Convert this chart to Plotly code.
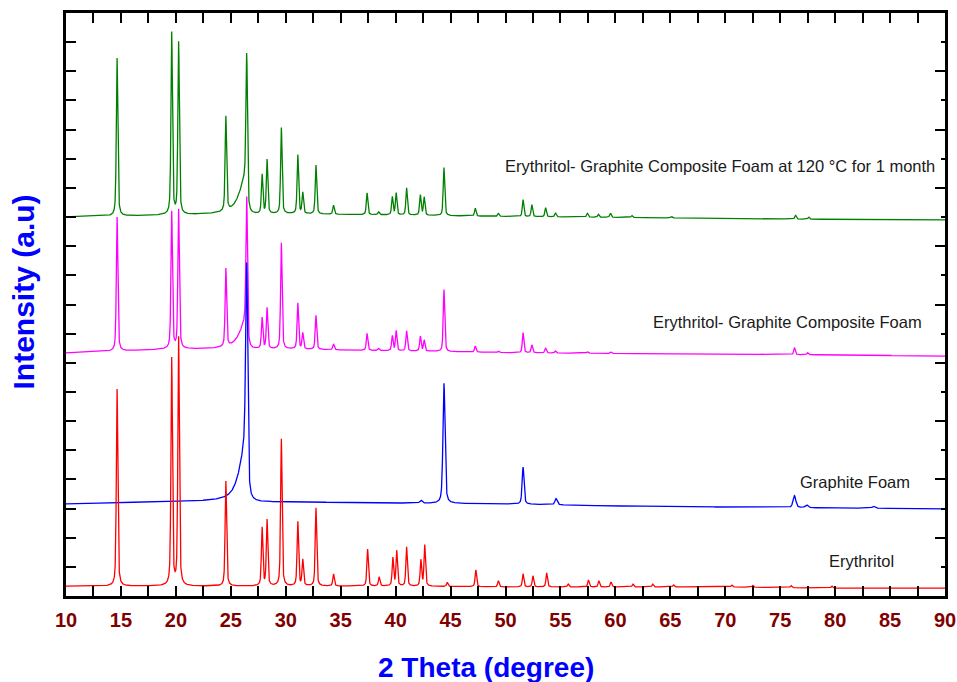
import numpy as np
import plotly.graph_objects as go

# ---------------------------------------------------------------
# XRD patterns: Erythritol, Graphite Foam, Erythritol-Graphite
# composite foam and the same composite after 1 month at 120 °C.
# Intensities are in stacked arbitrary units (offset baselines).
# ---------------------------------------------------------------

# Baseline level of each pattern, read at these 2θ nodes
base_nodes = [10, 20, 30, 40, 50, 60, 70, 80, 90]
ery_base = [0.34, 0.34, 0.34, 0.34, 0.31, 0.31, 0.31, 0.27, 0.27]
gf_base = [3.16, 3.24, 3.23, 3.19, 3.16, 3.09, 3.05, 3.02, 2.99]
comp_base = [8.34, 8.47, 8.47, 8.41, 8.35, 8.32, 8.30, 8.27, 8.23]
aged_base = [13.00, 13.07, 13.11, 13.07, 13.02, 12.99, 12.95, 12.92, 12.90]

# Erythritol reflections (2θ, height above baseline)
ery_pos = [14.65, 19.62, 20.25, 24.55, 27.85, 28.3, 29.6, 31.1, 31.55, 32.75,
           34.35, 37.45, 38.5, 39.75, 40.1, 41.0, 42.3, 42.65, 44.7, 47.3,
           49.35, 51.6, 52.5, 53.75, 55.7, 57.55, 58.5, 59.6, 61.6, 63.4,
           65.3, 70.6, 72.5, 76.0, 79.7]
ery_int = [6.76, 7.79, 8.51, 3.60, 1.99, 2.26, 5.04, 2.20, 0.89, 2.68,
           0.41, 1.27, 0.31, 0.96, 1.20, 1.34, 0.89, 1.41, 0.14, 0.58,
           0.21, 0.45, 0.38, 0.48, 0.10, 0.24, 0.21, 0.17, 0.10, 0.10,
           0.07, 0.07, 0.07, 0.07, 0.07]

# Graphite foam reflections
gf_pos = [26.45, 42.3, 44.4, 51.6, 54.6, 76.3, 77.4, 83.5]
gf_int = [7.30, 0.10, 4.12, 1.27, 0.21, 0.41, 0.10, 0.07]
gf_fwhm = [0.22, 0.25, 0.22, 0.20, 0.25, 0.30, 0.30, 0.30]

# Composite foam reflections
comp_pos = [14.65, 19.62, 20.25, 24.55, 26.45, 27.85, 28.3, 29.6, 31.1, 31.55,
            32.75, 34.35, 37.4, 38.45, 39.7, 40.05, 41.0, 42.25, 42.6, 44.4,
            47.25, 49.35, 51.6, 52.4, 53.65, 54.55, 57.45, 59.6, 76.3, 77.5]
comp_int = [4.60, 4.70, 4.77, 2.68, 4.80, 1.06, 1.40, 3.64, 1.58, 0.55,
            1.17, 0.20, 0.58, 0.07, 0.51, 0.69, 0.69, 0.51, 0.38, 2.13,
            0.21, 0.05, 0.69, 0.27, 0.17, 0.07, 0.05, 0.05, 0.24, 0.07]

# Composite foam after 1 month at 120 °C
aged_pos = [14.65, 19.62, 20.25, 24.55, 26.45, 27.85, 28.3, 29.6, 31.1, 31.55,
            32.75, 34.35, 37.4, 38.45, 39.7, 40.05, 41.0, 42.25, 42.6, 44.4,
            47.25, 49.35, 51.6, 52.4, 53.65, 54.55, 57.45, 58.45, 59.55, 61.5,
            65.1, 76.4, 77.6]
aged_int = [5.42, 6.24, 5.90, 3.25, 4.94, 1.34, 1.85, 2.95, 2.02, 0.72,
            1.68, 0.31, 0.75, 0.10, 0.62, 0.75, 0.93, 0.69, 0.62, 1.65,
            0.27, 0.10, 0.58, 0.41, 0.31, 0.14, 0.14, 0.10, 0.14, 0.07,
            0.05, 0.14, 0.07]

# Low-angle tail of the graphite (002) reflection in each graphite pattern
tail_pos = 26.35
gf_tail, comp_tail, aged_tail = 1.72, 0.86, 1.17

# Curve labels: (text, 2θ of right end, intensity)
labels = [
    ("Erythritol- Graphite Composite Foam at 120 °C for 1 month", 89.3, 14.75),
    ("Erythritol- Graphite Composite Foam", 88.1, 9.40),
    ("Graphite Foam", 87.0, 3.91),
    ("Erythritol", 85.55, 1.20),
]

x_ticks = list(range(10, 95, 5))

two_theta = np.round(np.arange(10.0, 90.0001, 0.01), 2)


def peak(x, center, height, fwhm_left, fwhm_right, eta=0.5):
    w = np.where(x < center, fwhm_left, fwhm_right)
    d = (x - center) / w
    return height * (eta / (1 + 4 * d ** 2) + (1 - eta) * np.exp(-4 * np.log(2) * d ** 2))


def pattern(base, positions, heights, widths=None, tail=0.0):
    y = np.interp(two_theta, base_nodes, base)
    for i, (p, h) in enumerate(zip(positions, heights)):
        w = widths[i] if widths is not None else 0.16
        y = y + peak(two_theta, p, h, w, w)
    if tail:
        y = y + peak(two_theta, tail_pos, tail, 1.4, 0.2, eta=0.8)
    return y


y_ery = pattern(ery_base, ery_pos, ery_int)
y_gf = pattern(gf_base, gf_pos, gf_int, gf_fwhm, gf_tail)
y_comp = pattern(comp_base, comp_pos, comp_int, tail=comp_tail)
y_aged = pattern(aged_base, aged_pos, aged_int, tail=aged_tail)

fig = go.Figure()
# Erythritol goes on the right-hand (overlaying) y axis, which shares the
# same range, so that the right frame carries its own tick pattern.
for y, color, yax in [(y_aged, "#008000", "y"), (y_comp, "#FF00FF", "y"),
                      (y_gf, "#0000FF", "y"), (y_ery, "#FF0000", "y2")]:
    fig.add_trace(go.Scatter(x=two_theta, y=y, mode="lines", yaxis=yax,
                             line=dict(color=color, width=1.3),
                             hoverinfo="skip", showlegend=False))

font_family = "Liberation Sans, Arial, sans-serif"

for text, xr, yv in labels:
    fig.add_annotation(x=xr, y=yv, text=text, showarrow=False,
                       xanchor="right", yanchor="middle",
                       font=dict(family=font_family, size=16.5, color="#1a1a1a"))

# Axis titles
fig.add_annotation(xref="paper", yref="paper", x=0.478, y=-0.122,
                   text="2 Theta (degree)", showarrow=False,
                   xanchor="center", yanchor="middle",
                   font=dict(family=font_family, size=28, color="#0000FF", weight="bold"))
fig.add_annotation(xref="paper", yref="paper", x=-0.048, y=0.522,
                   text="Intensity (a.u)", showarrow=False, textangle=-90,
                   xanchor="center", yanchor="middle",
                   font=dict(family=font_family, size=30, color="#0000FF", weight="bold"))

fig.update_layout(
    width=957, height=682,
    margin=dict(l=66, r=12, t=13, b=86),
    paper_bgcolor="white", plot_bgcolor="white",
    showlegend=False,
    xaxis=dict(
        range=[10, 90], tickvals=x_ticks, ticktext=[str(v) for v in x_ticks],
        automargin=False, ticklabeloverflow="allow",
        showline=True, linecolor="black", linewidth=2.5, mirror="allticks",
        ticks="inside", ticklen=10, tickwidth=2, tickcolor="black",
        minor=dict(dtick=2.5, tick0=10, ticks="inside", ticklen=5, tickwidth=2,
                   tickcolor="black", showgrid=False),
        showgrid=False, zeroline=False, ticklabelstandoff=4,
        tickfont=dict(family=font_family, size=20, color="#800000", weight="bold"),
    ),
    yaxis=dict(
        range=[0, 20], dtick=1, tick0=0, automargin=False,
        showline=True, linecolor="black", linewidth=2.5, mirror=True,
        ticks="inside", ticklen=10, tickwidth=2, tickcolor="black",
        showticklabels=False, showgrid=False, zeroline=False,
    ),
    yaxis2=dict(
        range=[0, 20], overlaying="y", side="right", dtick=2, tick0=0,
        automargin=False,
        showline=False, ticks="inside", ticklen=10, tickwidth=2, tickcolor="black",
        minor=dict(dtick=1, ticks="inside", ticklen=4, tickwidth=2, tickcolor="black"),
        showticklabels=False, showgrid=False, zeroline=False,
    ),
)

fig.write_html("out.html")
